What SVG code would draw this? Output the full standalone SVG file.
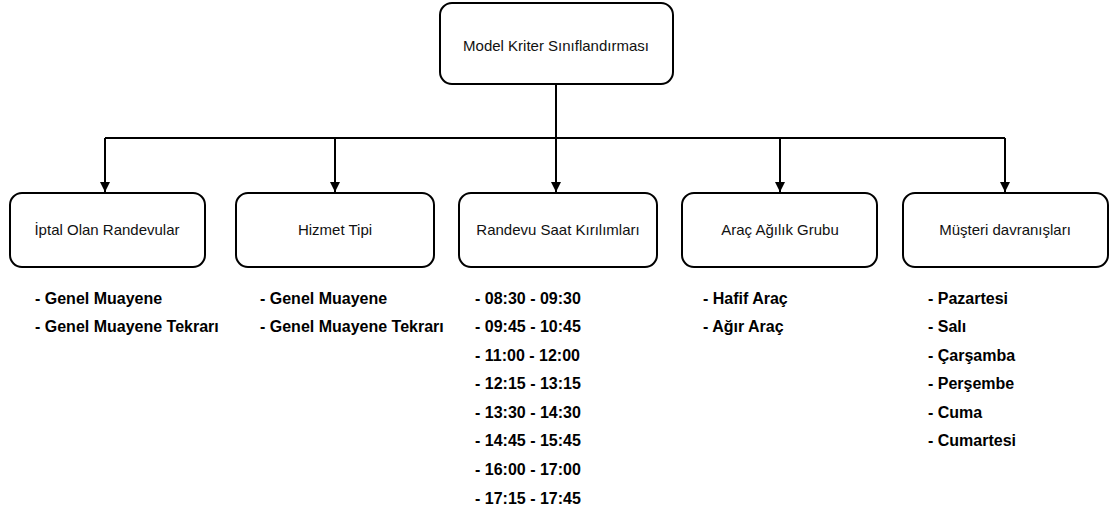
<svg xmlns="http://www.w3.org/2000/svg" width="1110" height="513" viewBox="0 0 1110 513">
  <defs>
    <marker id="arrow" viewBox="0 0 10 10" refX="10" refY="5" markerWidth="5.5" markerHeight="5" orient="auto" markerUnits="strokeWidth">
      <path d="M0,0 L10,5 L0,10 z" fill="#000"/>
    </marker>
    <style>
      .box { fill: #fff; stroke: #000; stroke-width: 2; }
      .label { font-family: "Liberation Sans", Arial, sans-serif; font-size: 15px; fill: #111; text-anchor: middle; }
      .item { font-family: "Liberation Sans", Arial, sans-serif; font-size: 16px; font-weight: bold; fill: #000; }
      .conn { fill: none; stroke: #000; stroke-width: 2; }
    </style>
  </defs>
  <rect width="1110" height="513" fill="#fff"/>

  <g id="connectors">
    <path class="conn" d="M556,85 V138"/>
    <path class="conn" d="M105,138 H1005"/>
    <path class="conn" d="M105,138 V192" marker-end="url(#arrow)"/>
    <path class="conn" d="M335,138 V192" marker-end="url(#arrow)"/>
    <path class="conn" d="M556,138 V192" marker-end="url(#arrow)"/>
    <path class="conn" d="M780,138 V192" marker-end="url(#arrow)"/>
    <path class="conn" d="M1005,138 V192" marker-end="url(#arrow)"/>
  </g>

  <g id="root">
    <rect class="box" x="440" y="3" width="233" height="81" rx="12"/>
    <text class="label" x="556" y="51">Model Kriter Sınıflandırması</text>
  </g>

  <g id="iptal">
    <rect class="box" x="10" y="193" width="195" height="74" rx="12"/>
    <text class="label" x="107" y="235">İptal Olan Randevular</text>
    <text class="item" x="35" y="304">- Genel Muayene</text>
    <text class="item" x="35" y="332">- Genel Muayene Tekrarı</text>
  </g>

  <g id="hizmet">
    <rect class="box" x="236" y="193" width="198" height="74" rx="12"/>
    <text class="label" x="335" y="235">Hizmet Tipi</text>
    <text class="item" x="260" y="304">- Genel Muayene</text>
    <text class="item" x="260" y="332">- Genel Muayene Tekrarı</text>
  </g>

  <g id="saat">
    <rect class="box" x="459" y="193" width="198" height="74" rx="12"/>
    <text class="label" x="558" y="235">Randevu Saat Kırılımları</text>
    <text class="item" x="475" y="304">- 08:30 - 09:30</text>
    <text class="item" x="475" y="332">- 09:45 - 10:45</text>
    <text class="item" x="475" y="361">- 11:00 - 12:00</text>
    <text class="item" x="475" y="389">- 12:15 - 13:15</text>
    <text class="item" x="475" y="418">- 13:30 - 14:30</text>
    <text class="item" x="475" y="446">- 14:45 - 15:45</text>
    <text class="item" x="475" y="475">- 16:00 - 17:00</text>
    <text class="item" x="475" y="504">- 17:15 - 17:45</text>
  </g>

  <g id="arac">
    <rect class="box" x="682" y="193" width="195" height="74" rx="12"/>
    <text class="label" x="780" y="235">Araç Ağılık Grubu</text>
    <text class="item" x="703" y="304">- Hafif Araç</text>
    <text class="item" x="703" y="332">- Ağır Araç</text>
  </g>

  <g id="musteri">
    <rect class="box" x="903" y="193" width="205" height="74" rx="12"/>
    <text class="label" x="1005" y="235">Müşteri davranışları</text>
    <text class="item" x="928" y="304">- Pazartesi</text>
    <text class="item" x="928" y="332">- Salı</text>
    <text class="item" x="928" y="361">- Çarşamba</text>
    <text class="item" x="928" y="389">- Perşembe</text>
    <text class="item" x="928" y="418">- Cuma</text>
    <text class="item" x="928" y="446">- Cumartesi</text>
  </g>
</svg>
